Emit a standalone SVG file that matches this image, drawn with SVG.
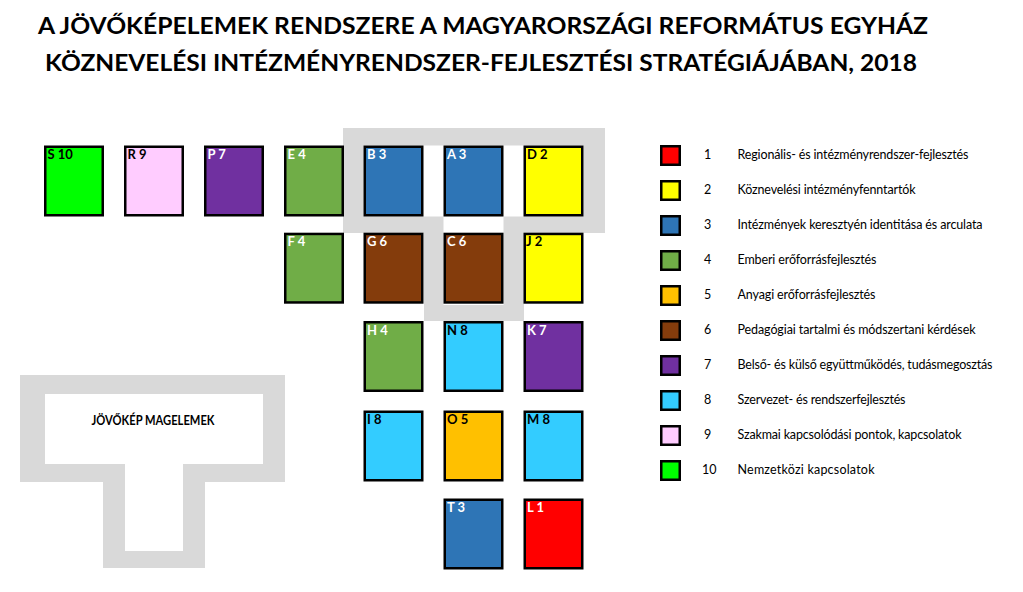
<svg xmlns="http://www.w3.org/2000/svg" width="1023" height="592" viewBox="0 0 1023 592">
<style>
.title{font-family:Lato,"Liberation Sans",sans-serif;font-weight:700;font-size:22px;fill:#000}
.box{stroke:#000;stroke-width:2.5}
.lbl{font-family:Lato,"Liberation Sans",sans-serif;font-weight:700;font-size:13px}
.w{fill:#fff}.k{fill:#000}
.leg{font-family:Lato,"Liberation Sans",sans-serif;font-size:12.5px;fill:#000}
.grey{fill:#D9D9D9;fill-rule:evenodd}
.c1{fill:#FF0000}.c2{fill:#FFFF00}.c3{fill:#2E75B6}.c4{fill:#70AD47}.c5{fill:#FFC000}
.c6{fill:#843C0C}.c7{fill:#7030A0}.c8{fill:#33CCFF}.c9{fill:#FFCCFF}.c10{fill:#00FF00}
</style>
<rect width="1023" height="592" fill="#fff"/>
<g id="title">
<text class="title" x="38" y="34" textLength="890" lengthAdjust="spacingAndGlyphs">A JÖVŐKÉPELEMEK RENDSZERE A MAGYARORSZÁGI REFORMÁTUS EGYHÁZ</text>
<text class="title" x="45" y="71" textLength="872" lengthAdjust="spacingAndGlyphs">KÖZNEVELÉSI INTÉZMÉNYRENDSZER-FEJLESZTÉSI STRATÉGIÁJÁBAN, 2018</text>
</g>
<g id="core-frame">
<path class="grey" d="M343,128 H605 V233 H524 V321 H424 V233 H343 Z M363.5,145.5 V216.5 H443.5 V305 H503.5 V216.5 H583.5 V145.5 Z"/>
</g>
<g id="jovokep-magelemek">
<path class="grey" d="M20,375 H285 V482 H205 V568 H103 V482 H20 Z M45,394 V464 H125 V551 H183 V464 H263 V394 Z"/>
<text class="lbl k" x="153" y="425" text-anchor="middle" font-size="12" textLength="123" lengthAdjust="spacingAndGlyphs">JÖVŐKÉP MAGELEMEK</text>
</g>
<g id="connectors"></g>
<g id="S10"><rect class="box c10" x="45.25" y="146.75" width="57.5" height="68.5"/><text class="lbl k" x="47.5" y="159">S 10</text></g>
<g id="R9"><rect class="box c9" x="125.25" y="146.75" width="57.5" height="68.5"/><text class="lbl k" x="127.5" y="159">R 9</text></g>
<g id="P7"><rect class="box c7" x="205.25" y="146.75" width="57.5" height="68.5"/><text class="lbl w" x="207.5" y="159">P 7</text></g>
<g id="E4"><rect class="box c4" x="285.25" y="146.75" width="57.5" height="68.5"/><text class="lbl w" x="287.5" y="159">E 4</text></g>
<g id="B3"><rect class="box c3" x="364.75" y="146.75" width="57.5" height="68.5"/><text class="lbl w" x="367" y="159">B 3</text></g>
<g id="A3"><rect class="box c3" x="444.75" y="146.75" width="57.5" height="68.5"/><text class="lbl w" x="447" y="159">A 3</text></g>
<g id="D2"><rect class="box c2" x="524.75" y="146.75" width="57.5" height="68.5"/><text class="lbl k" x="527" y="159">D 2</text></g>
<g id="F4"><rect class="box c4" x="285.25" y="233.95" width="57.5" height="68.5"/><text class="lbl w" x="287.5" y="246.2">F 4</text></g>
<g id="G6"><rect class="box c6" x="364.75" y="233.95" width="57.5" height="68.5"/><text class="lbl w" x="367" y="246.2">G 6</text></g>
<g id="C6"><rect class="box c6" x="444.75" y="233.95" width="57.5" height="68.5"/><text class="lbl w" x="447" y="246.2">C 6</text></g>
<g id="J2"><rect class="box c2" x="524.75" y="233.95" width="57.5" height="68.5"/><text class="lbl k" x="526" y="246.2">J 2</text></g>
<g id="H4"><rect class="box c4" x="364.75" y="322.25" width="57.5" height="68.5"/><text class="lbl w" x="367" y="334.5">H 4</text></g>
<g id="N8"><rect class="box c8" x="444.75" y="322.25" width="57.5" height="68.5"/><text class="lbl k" x="447" y="334.5">N 8</text></g>
<g id="K7"><rect class="box c7" x="524.75" y="322.25" width="57.5" height="68.5"/><text class="lbl w" x="527" y="334.5">K 7</text></g>
<g id="I8"><rect class="box c8" x="364.75" y="411.75" width="57.5" height="68.5"/><text class="lbl k" x="367" y="424">I 8</text></g>
<g id="O5"><rect class="box c5" x="444.75" y="411.75" width="57.5" height="68.5"/><text class="lbl k" x="447" y="424">O 5</text></g>
<g id="M8"><rect class="box c8" x="524.75" y="411.75" width="57.5" height="68.5"/><text class="lbl k" x="527" y="424">M 8</text></g>
<g id="T3"><rect class="box c3" x="444.75" y="499.75" width="57.5" height="68.5"/><text class="lbl w" x="447" y="512">T 3</text></g>
<g id="L1"><rect class="box c1" x="524.75" y="499.75" width="57.5" height="68.5"/><text class="lbl w" x="527" y="512">L 1</text></g>
<g id="legend">
<g id="leg1"><rect class="box c1" x="661.25" y="146.25" width="18.5" height="18.5"/><text class="leg" x="704" y="159">1</text><text class="leg" x="737.5" y="159" textLength="231">Regionális- és intézményrendszer-fejlesztés</text></g>
<g id="leg2"><rect class="box c2" x="661.25" y="181.25" width="18.5" height="18.5"/><text class="leg" x="704" y="194">2</text><text class="leg" x="737.5" y="194" textLength="178">Köznevelési intézményfenntartók</text></g>
<g id="leg3"><rect class="box c3" x="661.25" y="216.25" width="18.5" height="18.5"/><text class="leg" x="704" y="229">3</text><text class="leg" x="737.5" y="229" textLength="245">Intézmények keresztyén identitása és arculata</text></g>
<g id="leg4"><rect class="box c4" x="661.25" y="251.25" width="18.5" height="18.5"/><text class="leg" x="704" y="264">4</text><text class="leg" x="737.5" y="264" textLength="139">Emberi erőforrásfejlesztés</text></g>
<g id="leg5"><rect class="box c5" x="661.25" y="286.25" width="18.5" height="18.5"/><text class="leg" x="704" y="299">5</text><text class="leg" x="737.5" y="299" textLength="138">Anyagi erőforrásfejlesztés</text></g>
<g id="leg6"><rect class="box c6" x="661.25" y="321.25" width="18.5" height="18.5"/><text class="leg" x="704" y="334">6</text><text class="leg" x="737.5" y="334" textLength="238">Pedagógiai tartalmi és módszertani kérdések</text></g>
<g id="leg7"><rect class="box c7" x="661.25" y="356.25" width="18.5" height="18.5"/><text class="leg" x="704" y="369">7</text><text class="leg" x="737.5" y="369" textLength="255">Belső- és külső együttműködés, tudásmegosztás</text></g>
<g id="leg8"><rect class="box c8" x="661.25" y="391.25" width="18.5" height="18.5"/><text class="leg" x="704" y="404">8</text><text class="leg" x="737.5" y="404" textLength="168">Szervezet- és rendszerfejlesztés</text></g>
<g id="leg9"><rect class="box c9" x="661.25" y="426.25" width="18.5" height="18.5"/><text class="leg" x="704" y="439">9</text><text class="leg" x="737.5" y="439" textLength="224">Szakmai kapcsolódási pontok, kapcsolatok</text></g>
<g id="leg10"><rect class="box c10" x="661.25" y="461.25" width="18.5" height="18.5"/><text class="leg" x="702" y="474">10</text><text class="leg" x="737.5" y="474" textLength="137">Nemzetközi kapcsolatok</text></g>
</g>
</svg>
